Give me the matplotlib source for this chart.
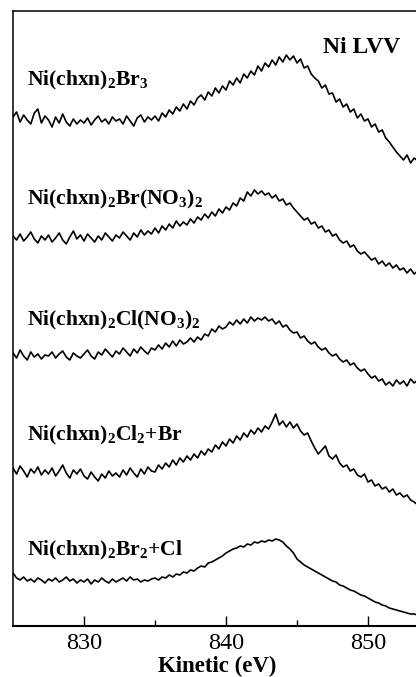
import numpy as np
import matplotlib
matplotlib.use("Agg")
import matplotlib.pyplot as plt
from matplotlib.ticker import FixedLocator

plt.rcParams["font.family"] = "Liberation Serif"
plt.rcParams["mathtext.fontset"] = "custom"
plt.rcParams["mathtext.rm"] = "Liberation Serif"
plt.rcParams["mathtext.bf"] = "Liberation Serif:bold"

# kinetic energy axis, 825.0 to 853.5 eV in 0.25 eV steps
kinetic = np.arange(825.0, 853.51, 0.25)

# intensities (arbitrary units, stacked)
br3 = [509, 514, 504, 511, 506, 502, 513, 517, 503, 510,
       506, 499, 509, 503, 512, 504, 500, 507, 502, 506,
       503, 508, 501, 506, 510, 504, 507, 502, 509, 505,
       507, 502, 510, 505, 500, 508, 511, 504, 509, 506,
       510, 505, 513, 509, 516, 512, 519, 515, 522, 517,
       525, 521, 528, 531, 526, 534, 530, 538, 533, 540,
       536, 545, 541, 548, 543, 552, 548, 555, 551, 560,
       555, 563, 559, 566, 561, 569, 564, 571, 566, 570,
       563, 567, 558, 560, 552, 548, 545, 538, 541, 532,
       533, 524, 527, 519, 522, 514, 517, 508, 512, 505,
       507, 499, 502, 494, 496, 488, 484, 479, 474, 470,
       466, 471, 463, 468, 465]

br_no3 = [390, 386, 392, 385, 389, 394, 387, 383, 390, 386,
          391, 384, 388, 393, 386, 382, 389, 395, 387, 391,
          385, 392, 388, 384, 390, 386, 393, 389, 385, 391,
          388, 394, 390, 386, 393, 389, 396, 391, 395, 392,
          398, 393, 400, 396, 402, 398, 405, 400, 404, 401,
          407, 403, 409, 406, 412, 408, 414, 410, 417, 413,
          419, 416, 423, 420, 428, 425, 434, 430, 436, 432,
          435, 431, 433, 428, 431, 425, 427, 421, 423, 418,
          414, 410, 406, 408, 402, 404, 398, 400, 394, 396,
          390, 392, 386, 383, 385, 379, 381, 375, 372, 374,
          370, 366, 368, 362, 365, 360, 363, 358, 361, 356,
          358, 353, 357, 352, 355]

cl_no3 = [273, 268, 276, 270, 266, 274, 269, 272, 267, 271,
          270, 274, 268, 272, 275, 269, 266, 273, 270, 268,
          272, 276, 270, 267, 274, 271, 277, 273, 269, 275,
          272, 278, 274, 270, 277, 273, 279, 275, 272, 278,
          276, 281, 277, 283, 279, 285, 280, 286, 282, 284,
          288, 284, 289, 286, 292, 290, 297, 294, 300, 297,
          299, 304, 301, 306, 302, 307, 303, 309, 305, 308,
          306, 309, 305, 307, 302, 305, 299, 301, 296, 293,
          294, 288, 290, 285, 282, 284, 279, 276, 278, 273,
          270, 272, 267, 264, 266, 261, 263, 258, 255, 257,
          252, 248, 250, 245, 247, 241, 244, 240, 246, 242,
          245, 240, 247, 243, 246]

cl2_br = [158, 152, 160, 155, 149, 157, 153, 159, 151, 156,
          152, 158, 150, 155, 161, 153, 148, 156, 152, 157,
          150, 147, 154, 149, 145, 152, 148, 155, 150, 153,
          149, 156, 151, 158, 153, 149, 157, 152, 159, 155,
          154, 161, 157, 163, 159, 166, 161, 168, 164, 170,
          166, 172, 168, 175, 171, 177, 174, 181, 177, 184,
          180, 187, 183, 190, 186, 193, 189, 196, 192, 198,
          194, 200, 197, 204, 212, 201, 205, 199, 204, 198,
          202, 195, 191, 193, 185, 178, 172, 176, 180, 170,
          167, 171, 163, 159, 161, 155, 157, 151, 149, 152,
          144, 146, 140, 142, 137, 139, 134, 137, 131, 133,
          129, 131, 126, 124, 121]

br2_cl = [53, 48, 46, 49, 45, 47, 44, 48, 46, 43,
          47, 45, 48, 44, 46, 49, 45, 47, 43, 46,
          44, 47, 42, 46, 44, 48, 45, 43, 47, 44,
          46, 48, 45, 49, 46, 47, 44, 46, 45, 47,
          48, 46, 49, 48, 51, 49, 52, 51, 54, 53,
          56, 55, 58, 60, 59, 63, 64, 66, 68, 70,
          73, 75, 77, 78, 80, 79, 82, 81, 84, 83,
          85, 84, 86, 85, 87, 86, 84, 80, 77, 73,
          67, 64, 61, 59, 57, 55, 53, 51, 49, 47,
          45, 44, 41, 40, 38, 36, 35, 33, 31, 30,
          28, 26, 24, 23, 21, 20, 18, 17, 16, 15,
          14, 13, 12, 12, 11]

spectra = [br3, br_no3, cl_no3, cl2_br, br2_cl]
names = [r"$\mathbf{Ni(chxn)_2Br_3}$",
         r"$\mathbf{Ni(chxn)_2Br(NO_3)_2}$",
         r"$\mathbf{Ni(chxn)_2Cl(NO_3)_2}$",
         r"$\mathbf{Ni(chxn)_2Cl_2{+}Br}$",
         r"$\mathbf{Ni(chxn)_2Br_2{+}Cl}$"]
name_y = [541, 422, 301, 186, 71]

fig = plt.figure(figsize=(4.16, 6.77), dpi=100)
ax = fig.add_axes([13 / 416, 51 / 677, 426 / 416, 615 / 677])

for y in spectra:
    ax.plot(kinetic, y, color="black", lw=1.2)

for name, ny in zip(names, name_y):
    ax.text(826.0, ny, name, fontsize=15.5, color="black")

ax.text(846.8, 573, "Ni LVV", fontsize=17, fontweight="bold")

ax.set_xlim(825, 855)
ax.set_ylim(0, 615)
ax.xaxis.set_major_locator(FixedLocator([830, 840, 850]))
ax.xaxis.set_minor_locator(FixedLocator([835, 845]))
ax.tick_params(axis="x", which="major", direction="in", length=7.5, width=1,
               labelsize=17.5, pad=5)
ax.tick_params(axis="x", which="minor", direction="in", length=4.5, width=1)
ax.set_yticks([])
for s in ["left", "top"]:
    ax.spines[s].set_linewidth(1.1)
ax.spines["bottom"].set_linewidth(1.5)

fig.text(217 / 416, 1 - 672 / 677, "Kinetic (eV)", ha="center", va="baseline",
         fontsize=16.5, fontweight="bold")

fig.savefig("out.png", dpi=100)
